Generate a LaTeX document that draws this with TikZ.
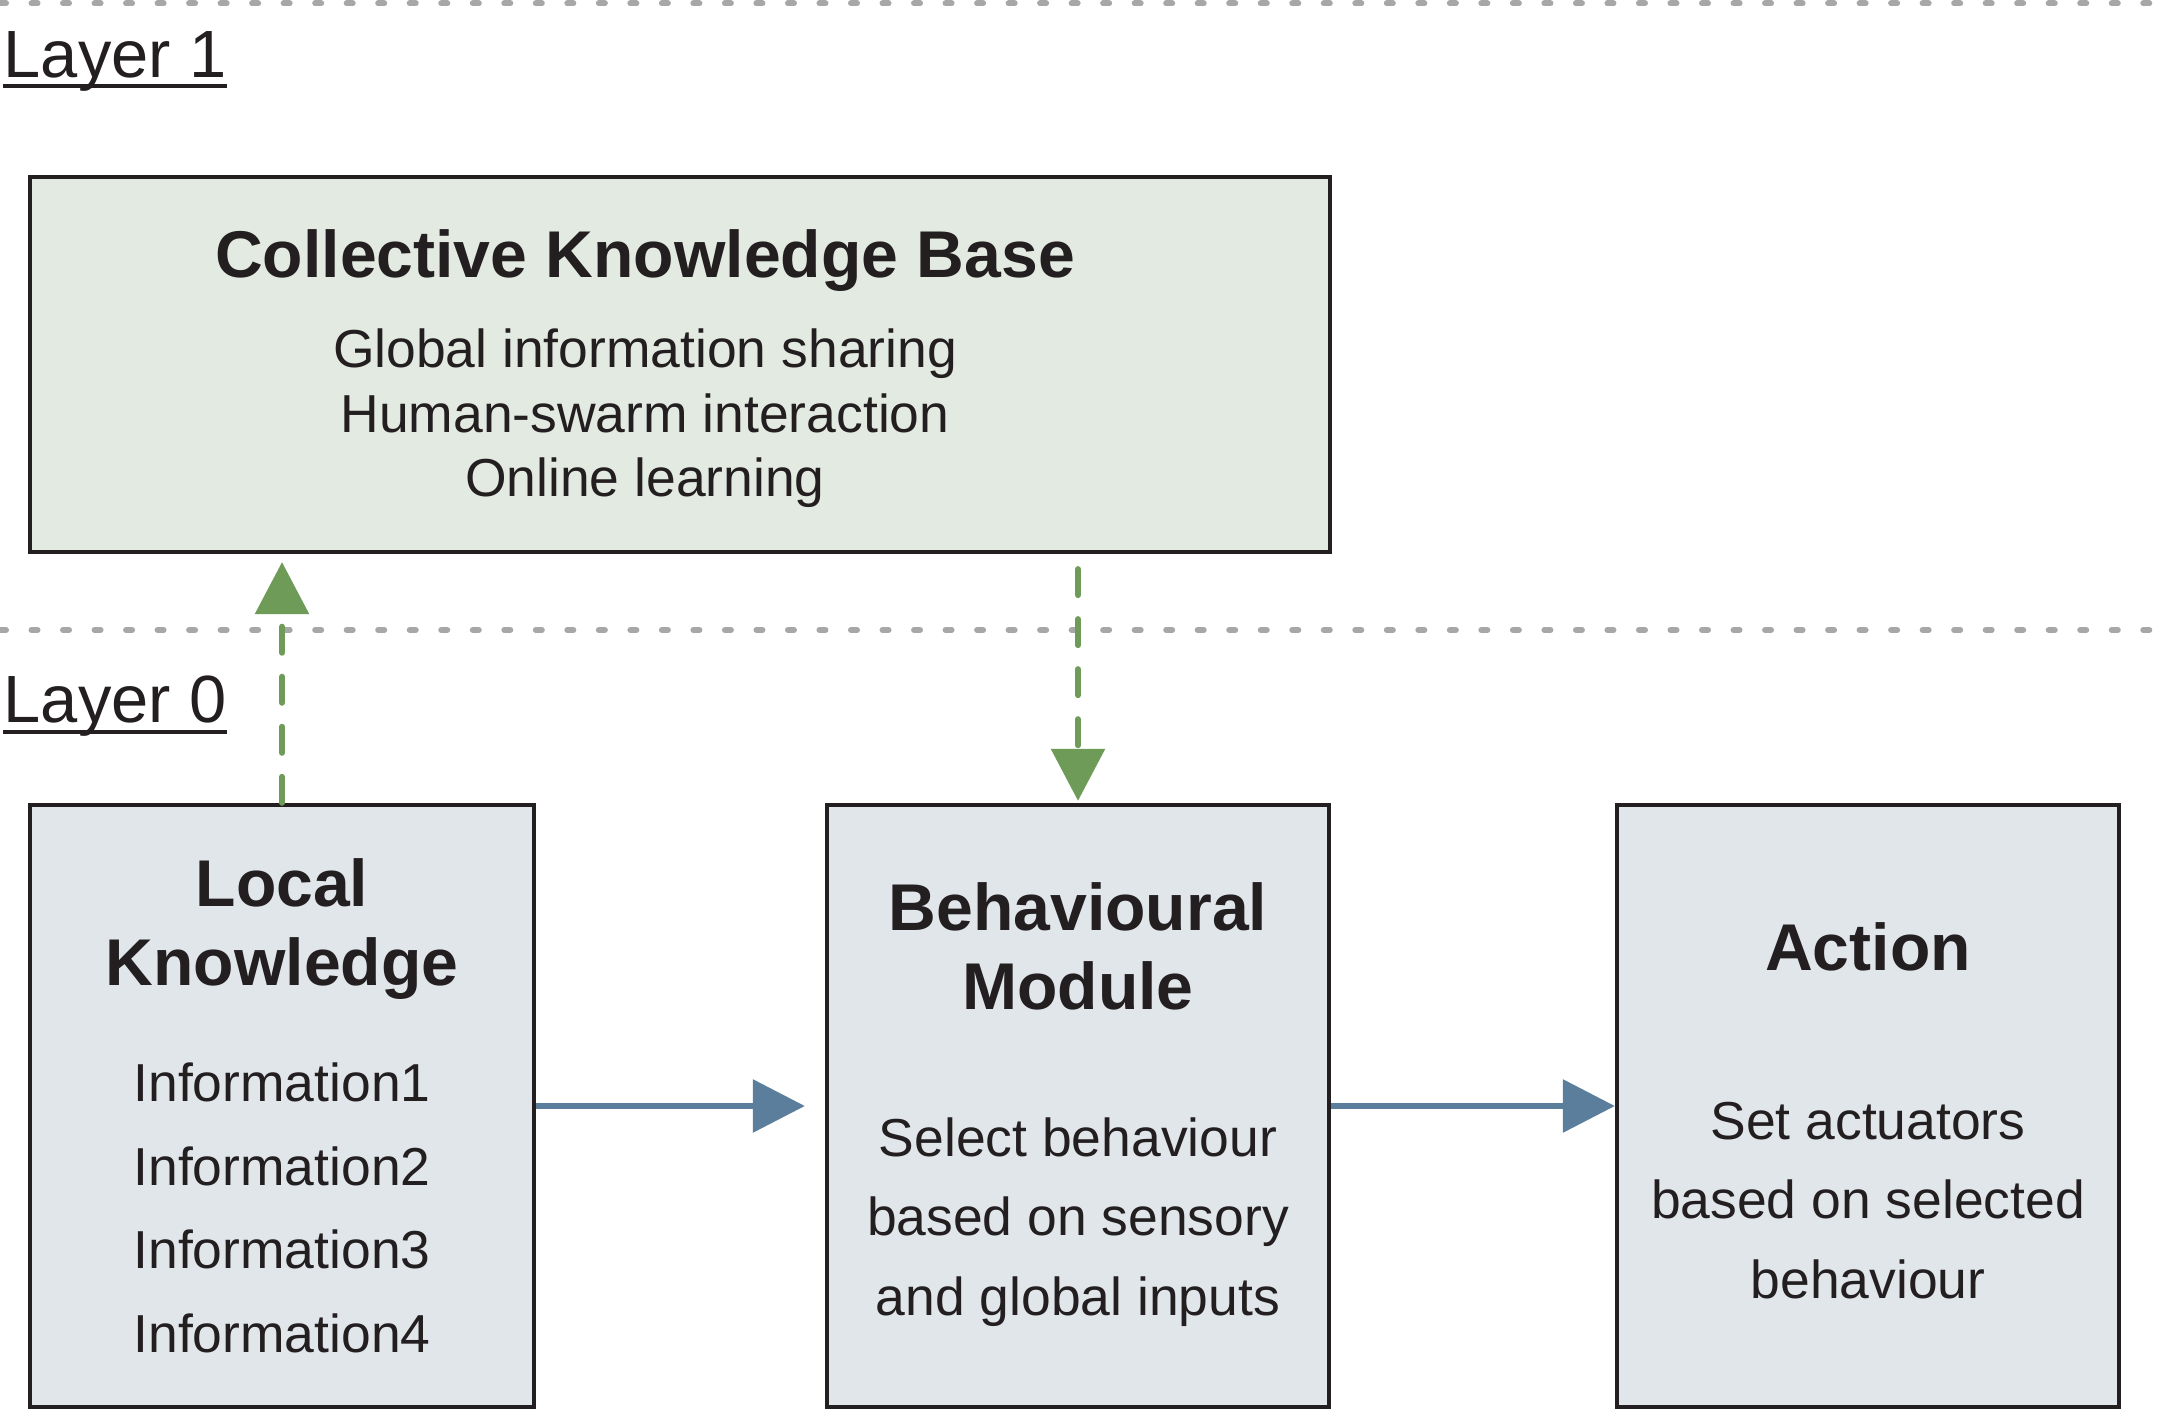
\documentclass[tikz,border=0pt]{standalone}
\usepackage{fontspec}
\setmainfont{Liberation Sans}
\usetikzlibrary{arrows.meta}
\definecolor{ink}{HTML}{231F20}
\definecolor{boxfill}{HTML}{E1E6EA}
\definecolor{ckbfill}{HTML}{E3EAE1}
\definecolor{greenarr}{HTML}{6E9B58}
\definecolor{bluearr}{HTML}{5A7E9B}
\definecolor{sepgray}{HTML}{A7A7A7}
\tikzset{
  boxnode/.style={draw=ink, line width=0.04cm, inner sep=0pt, rectangle},
  titletext/.style={anchor=base, inner sep=0pt, align=center, text=ink, font=\bfseries\fontsize{18.8}{22.4}\selectfont},
  bodytext/.style={anchor=base, inner sep=0pt, align=center, text=ink, font=\fontsize{15.2}{#1}\selectfont},
  layertext/.style={anchor=base west, inner sep=0pt, text=ink, font=\fontsize{19}{22}\selectfont},
  underl/.style={draw=ink, line width=0.04cm},
  sepline/.style={draw=sepgray, line width=0.06cm, line cap=round, dash pattern=on 0.06cm off 0.255cm},
  bluelink/.style={draw=bluearr, line width=0.06cm, -{Triangle[length=0.52cm,width=0.52cm]}},
  greenlink/.style={draw=greenarr, line width=0.06cm, line cap=round, dash pattern=on 0.26cm off 0.24cm, -{Triangle[length=0.52cm,width=0.53cm]}}
}
\begin{document}
\begin{tikzpicture}[x=0.01cm, y=-0.01cm]
\useasboundingbox[fill=white] (0,0) rectangle (2173,1410);
% separators
\draw[sepline] (0,3.5) -- (2173,3.5);
\draw[sepline] (0,630) -- (2173,630);
% layer labels
\node[layertext] (l1) at (3,78) {Layer 1};
\draw[underl] ([yshift=-0.08cm]l1.base west) -- ([yshift=-0.08cm]l1.base east);
\node[layertext] (l0) at (3,723) {Layer 0};
\draw[underl] ([yshift=-0.09cm]l0.base west) -- ([yshift=-0.09cm]l0.base east);
% boxes
\node[boxnode, fill=ckbfill, minimum width=12.985cm, minimum height=3.75cm] (ckb) at (680,364.5) {};
\node[boxnode, fill=boxfill, minimum width=5.03cm, minimum height=6.02cm] (lk) at (282,1106) {};
\node[boxnode, fill=boxfill, minimum width=5.02cm, minimum height=6.02cm] (bm) at (1078,1106) {};
\node[boxnode, fill=boxfill, minimum width=5.02cm, minimum height=6.02cm] (act) at (1868,1106) {};
% texts (anchor = baseline of last line)
\node[titletext] (ckbt) at (645,278) {Collective Knowledge Base};
\node[bodytext=18.35pt] (ckbb) at (645,497) {Global information sharing\\Human-swarm interaction\\Online learning};
\node[titletext] (lkt) at (282,985) {Local\\Knowledge};
\node[bodytext=23.7pt] (lkb) at (282,1352) {Information1\\Information2\\Information3\\Information4};
\node[titletext] (bmt) at (1078,1009) {Behavioural\\Module};
\node[bodytext=22.6pt] (bmb) at (1078,1315) {Select behaviour\\based on sensory\\and global inputs};
\node[titletext] (actt) at (1868,970) {Action};
\node[bodytext=22.5pt] (actb) at (1868,1298) {Set actuators\\based on selected\\behaviour};
% connectors
\draw[bluelink, shorten >=0.2cm] (lk.east) -- (bm.west);
\draw[bluelink] (bm.east) -- (act.west);
\draw[greenlink, shorten >=0.08cm] (lk.north) -- (lk.north |- ckb.south);
\draw[greenlink, shorten <=0.15cm, shorten >=0.02cm] (bm.north |- ckb.south) -- (bm.north);
\end{tikzpicture}
\end{document}
